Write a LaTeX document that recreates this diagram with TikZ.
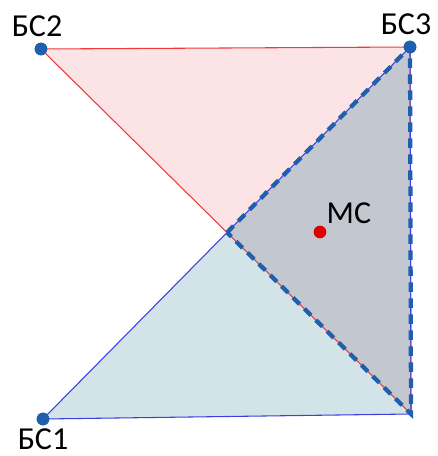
\documentclass[tikz,border=0pt]{standalone}
\usepackage{fontspec}
\setmainfont{Carlito}
\usetikzlibrary{positioning}
\definecolor{bsblue}{HTML}{1F5FAD}
\definecolor{redline}{HTML}{F03A3A}
\definecolor{blueline}{HTML}{3F3FE0}
\definecolor{pinkfill}{HTML}{FCE4E6}
\definecolor{tealfill}{HTML}{D3E4E8}
\definecolor{overlap}{HTML}{C3C8D0}
\definecolor{msred}{HTML}{E00000}

\begin{document}
\begin{tikzpicture}[
    x=0.75pt, y=-0.75pt,
    every node/.style={font=\fontsize{24}{28}\selectfont},
    bs/.style={circle, fill=bsblue, inner sep=0pt, minimum size=9.5pt},
    ms/.style={circle, fill=msred, inner sep=0pt, minimum size=9.5pt},
    redtri/.style={draw=redline, line width=0.8pt},
    bluetri/.style={draw=blueline, line width=0.8pt},
    zone/.style={draw=bsblue, line width=3.2pt, dash pattern=on 7pt off 5pt}
]
\useasboundingbox (0,0) rectangle (438,456);

% Stations and corner
\node[bs] (bs2) at (41,49) {};
\node[bs] (bs3) at (410,47) {};
\node[bs] (bs1) at (43,419) {};
\coordinate (crn) at (411,414);
\coordinate (x) at (intersection of bs2.center--crn and bs1.center--bs3.center);

% Fills
\fill[pinkfill] (bs2.center) -- (bs3.center) -- (crn) -- cycle;
\fill[tealfill] (bs1.center) -- (bs3.center) -- (crn) -- cycle;
\fill[overlap] (x) -- (bs3.center) -- (crn) -- cycle;

% Triangle edges
\draw[redtri] (bs2.center) -- (bs3.center) -- (crn) -- cycle;
\draw[bluetri] (bs1.center) -- (bs3.center) -- (crn) -- cycle;

% Zone of the mobile station
\draw[zone] (x) -- (bs3.center) -- (crn) -- cycle;

% Points on top
\node[bs] at (bs2) {};
\node[bs] at (bs3) {};
\node[bs] at (bs1) {};

% Labels
\node[above=1pt of bs2, xshift=-3pt] (l2) {БС2};
\node[above=1pt of bs3, xshift=-3pt] (l3) {БС3};
\node[below=-1pt of bs1] (l1) {БС1};

% Mobile station
\node[ms] (ms) at (320,232) {};
\node[above right=-1pt and -2pt of ms] (lms) {МС};
\end{tikzpicture}
\end{document}
